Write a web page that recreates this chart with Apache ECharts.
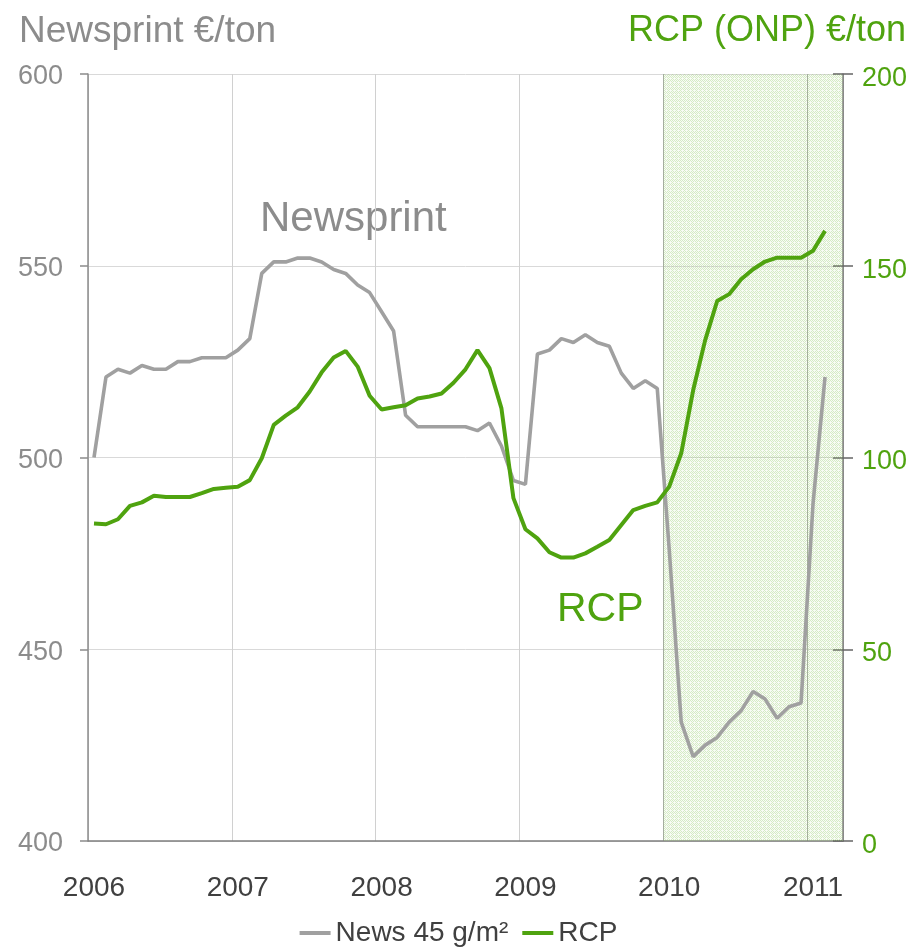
<!DOCTYPE html>
<html>
<head>
<meta charset="utf-8">
<title>Newsprint and RCP prices</title>
<script src="https://cdn.jsdelivr.net/npm/echarts@6/dist/echarts.min.js"></script>
<style>
  html, body { margin: 0; padding: 0; background: #ffffff; }
  #chart { width: 917px; height: 947px; }
</style>
</head>
<body>
<div id="chart"></div>
<script>
// Monthly categories, Jan 2006 .. Mar 2011
const years = [2006, 2007, 2008, 2009, 2010, 2011];
const lastMonthOf2011 = 3;
const months = [];
years.forEach(function (y) {
  const n = y === 2011 ? lastMonthOf2011 : 12;
  for (let m = 1; m <= n; m++) months.push(y + '-' + (m < 10 ? '0' + m : m));
});

// Newsprint 45 g/m², €/ton (left axis), Jan 2006 .. Feb 2011
const newsprint = [
  500, 521, 523, 522, 524, 523, 523, 525, 525, 526, 526, 526,
  528, 531, 548, 551, 551, 552, 552, 551, 549, 548, 545, 543,
  538, 533, 511, 508, 508, 508, 508, 508, 507, 509, 503, 494,
  493, 527, 528, 531, 530, 532, 530, 529, 522, 518, 520, 518,
  476, 431, 422, 425, 427, 431, 434, 439, 437, 432, 435, 436,
  488, 521
];

// RCP (ONP), €/ton (right axis), Jan 2006 .. Feb 2011
const rcp = [
  82.8, 82.6, 83.9, 87.4, 88.3, 90.0, 89.7, 89.7, 89.7, 90.7, 91.8, 92.1,
  92.4, 94.1, 99.8, 108.5, 110.9, 113.1, 117.2, 122.2, 126.1, 127.8, 123.7, 116.1,
  112.5, 113.1, 113.6, 115.4, 115.9, 116.7, 119.5, 123.0, 128.0, 123.3, 112.8, 89.4,
  81.3, 78.9, 75.3, 73.9, 73.9, 75.0, 76.7, 78.5, 82.4, 86.3, 87.4, 88.3,
  92.4, 101.1, 117.6, 130.6, 140.8, 142.6, 146.5, 149.1, 151.1, 152.1, 152.1, 152.1,
  153.9, 159.1
];

// Highlighted period, in months from Jan 2006
const highlightFrom = 48;
const highlightTo = 63;

const leftTicks = { min: 400, max: 600, step: 50 };
const rightTicks = { min: 0, max: 200, step: 50 };

const GREY = '#8c8c8c';
const LINE_GREY = '#a0a0a0';
const GREEN = '#4fa30f';
const DARK = '#404040';
const FONT = '"Liberation Sans", Arial, sans-serif';

// Fine stipple fill for the highlighted period
function stipple() {
  const c = document.createElement('canvas');
  c.width = 4; c.height = 4;
  const ctx = c.getContext('2d');
  for (let y = 0; y < 4; y++) {
    for (let x = 0; x < 4; x++) {
      const strong = (x + y) % 2 === 0 && !(x === 2 && y === 2);
      ctx.fillStyle = strong ? 'rgba(150,205,110,0.40)' : 'rgba(150,205,110,0.07)';
      ctx.fillRect(x, y, 1, 1);
    }
  }
  return c;
}

const chart = echarts.init(document.getElementById('chart'), null, { renderer: 'canvas' });

chart.setOption({
  animation: false,
  backgroundColor: '#ffffff',
  textStyle: { fontFamily: FONT },
  grid: { left: 88, right: 74, top: 74, bottom: 106, containLabel: false, outerBoundsMode: 'none' },
  legend: {
    data: ['News 45 g/m²', 'RCP'],
    left: 'center',
    top: 914,
    icon: 'rect',
    itemWidth: 31,
    itemHeight: 4,
    itemGap: 14,
    textStyle: { fontSize: 28, color: DARK, fontFamily: FONT }
  },
  xAxis: [
    {
      type: 'category',
      data: months,
      boundaryGap: true,
      axisLine: { show: true, lineStyle: { color: '#7f7f7f', width: 1.5 } },
      axisTick: { show: false },
      axisLabel: {
        interval: 11,
        margin: 33,
        fontSize: 28,
        color: DARK,
        fontFamily: FONT,
        formatter: function (v) { return v.slice(0, 4); }
      },
      splitLine: {
        show: true,
        interval: 11,
        lineStyle: {
          width: 1,
          color: ['#d0d0d0', '#d0d0d0', '#d0d0d0', '#d0d0d0', '#a8a8a8', '#a8a8a8', '#a8a8a8']
        }
      }
    },
    {
      type: 'value',
      min: 0,
      max: highlightTo,
      show: false
    }
  ],
  yAxis: [
    {
      type: 'value',
      position: 'left',
      min: leftTicks.min, max: leftTicks.max, interval: leftTicks.step,
      axisLine: { show: true, lineStyle: { color: GREY, width: 1.5 } },
      axisTick: { show: true, length: 8, lineStyle: { color: GREY, width: 1.5 } },
      axisLabel: { fontSize: 27, color: GREY, margin: 25, fontFamily: FONT, verticalAlign: 'top', lineHeight: 6 },
      splitLine: { show: true, lineStyle: { color: '#d9d9d9', width: 1 } }
    },
    {
      type: 'value',
      position: 'right',
      min: rightTicks.min, max: rightTicks.max, interval: rightTicks.step,
      axisLine: { show: true, lineStyle: { color: '#7f7f7f', width: 1.5 } },
      axisTick: { show: true, length: 10, lineStyle: { color: '#666666', width: 1.5 } },
      axisLabel: { fontSize: 27, color: GREEN, margin: 19, fontFamily: FONT, verticalAlign: 'top', lineHeight: 9 },
      splitLine: { show: false }
    },
    {
      // inner half of the right-hand tick marks
      type: 'value',
      position: 'right',
      min: rightTicks.min, max: rightTicks.max, interval: rightTicks.step,
      axisLine: { show: false },
      axisTick: { show: true, inside: true, length: 10, lineStyle: { color: '#666666', width: 1.5 } },
      axisLabel: { show: false },
      splitLine: { show: false }
    }
  ],
  series: [
    {
      name: 'period',
      type: 'line',
      xAxisIndex: 1,
      yAxisIndex: 0,
      data: [],
      z: -1,
      silent: true,
      markArea: {
        silent: true,
        itemStyle: { color: { image: stipple(), repeat: 'repeat' } },
        data: [[{ xAxis: highlightFrom }, { xAxis: highlightTo }]]
      }
    },
    {
      name: 'News 45 g/m²',
      type: 'line',
      xAxisIndex: 0,
      yAxisIndex: 0,
      data: newsprint,
      showSymbol: false,
      symbol: 'none',
      color: LINE_GREY,
      lineStyle: { color: LINE_GREY, width: 3.6 },
      z: 2
    },
    {
      name: 'RCP',
      type: 'line',
      xAxisIndex: 0,
      yAxisIndex: 1,
      data: rcp,
      showSymbol: false,
      symbol: 'none',
      color: GREEN,
      lineStyle: { color: GREEN, width: 4 },
      z: 3
    }
  ],
  graphic: [
    {
      type: 'text', x: 19, y: 32,
      style: { text: 'Newsprint €/ton', fill: GREY, font: '37px ' + FONT, textAlign: 'left', textVerticalAlign: 'middle' }
    },
    {
      type: 'text', x: 906, y: 31,
      style: { text: 'RCP (ONP) €/ton', fill: GREEN, font: '36px ' + FONT, textAlign: 'right', textVerticalAlign: 'middle' }
    },
    {
      type: 'text', x: 260, y: 219,
      style: { text: 'Newsprint', fill: GREY, font: '42px ' + FONT, textAlign: 'left', textVerticalAlign: 'middle' }
    },
    {
      type: 'text', x: 557, y: 610,
      style: { text: 'RCP', fill: GREEN, font: '41px ' + FONT, textAlign: 'left', textVerticalAlign: 'middle' }
    }
  ]
});
</script>
</body>
</html>
